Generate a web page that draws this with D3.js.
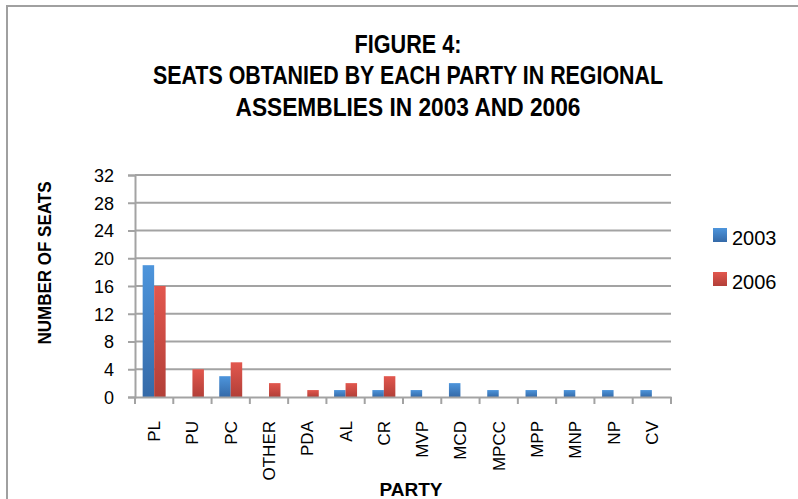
<!DOCTYPE html>
<html>
<head>
<meta charset="utf-8">
<script src="https://cdn.jsdelivr.net/npm/d3@7"></script>
<style>
  html, body { margin: 0; padding: 0; background: #fff; }
  svg { display: block; }
  text { font-family: "Liberation Sans", Arial, sans-serif; fill: #000; }
</style>
</head>
<body>
<svg id="chart" width="798" height="499"></svg>
<script>
// Seats per party in the regional assemblies
const parties = ["PL", "PU", "PC", "OTHER", "PDA", "AL", "CR", "MVP", "MCD", "MPCC", "MPP", "MNP", "NP", "CV"];
const seats2003 = [19, 0, 3, 0, 0, 1, 1, 1, 2, 1, 1, 1, 1, 1];
const seats2006 = [16, 4, 5, 2, 1, 2, 3, 0, 0, 0, 0, 0, 0, 0];
const seriesNames = ["2003", "2006"];
const yTicks = [0, 4, 8, 12, 16, 20, 24, 28, 32];
const titleLines = ["FIGURE 4:", "SEATS OBTANIED BY EACH PARTY IN REGIONAL", "ASSEMBLIES IN 2003 AND 2006"];

const svg = d3.select("#chart");
const W = 798, H = 499;
const plot = { left: 135, right: 671, top: 175, bottom: 397 };

// Outer chart frame
svg.append("rect")
  .attr("x", 7).attr("y", 6).attr("width", W + 20).attr("height", H + 20)
  .attr("fill", "#fff").attr("stroke", "#a0a0a0").attr("stroke-width", 2);

// Gradients for the bars
const defs = svg.append("defs");
const grads = [
  { id: "g2003", top: "#4d95dc", bottom: "#356aa8" },
  { id: "g2006", top: "#e2574e", bottom: "#b23f38" }
];
grads.forEach(g => {
  const lg = defs.append("linearGradient").attr("id", g.id)
    .attr("x1", 0).attr("y1", 0).attr("x2", 0).attr("y2", 1);
  lg.append("stop").attr("offset", "0%").attr("stop-color", g.top);
  lg.append("stop").attr("offset", "100%").attr("stop-color", g.bottom);
});

// Scales
const x = d3.scaleBand().domain(parties).range([plot.left, plot.right]).padding(0);
const xSub = d3.scaleBand().domain(seriesNames)
  .range([x.bandwidth() * 0.2, x.bandwidth() * 0.8]).padding(0);
const y = d3.scaleLinear().domain([0, 32]).range([plot.bottom, plot.top]);

// Horizontal gridlines
svg.append("g").selectAll("line").data(yTicks.filter(t => t > 0)).join("line")
  .attr("x1", plot.left).attr("x2", plot.right)
  .attr("y1", d => y(d)).attr("y2", d => y(d))
  .attr("stroke", "#a3a3a3").attr("stroke-width", 2);

// Y axis
const yAxis = svg.append("g").attr("transform", `translate(${plot.left},0)`)
  .call(d3.axisLeft(y).tickValues(yTicks).tickSize(7).tickPadding(14));
yAxis.select(".domain").attr("stroke", "#a3a3a3").attr("stroke-width", 2);
yAxis.selectAll(".tick line").attr("stroke", "#a3a3a3").attr("stroke-width", 2);
yAxis.selectAll(".tick text")
  .attr("font-family", "'Liberation Sans', Arial, sans-serif")
  .attr("font-size", 18).attr("fill", "#000").attr("dy", "0.36em");

// Bars
const data = parties.map((p, i) => ({ party: p, values: [seats2003[i], seats2006[i]] }));
const groups = svg.append("g").selectAll("g").data(data).join("g")
  .attr("transform", d => `translate(${x(d.party)},0)`);
groups.selectAll("rect")
  .data(d => d.values.map((v, k) => ({ key: seriesNames[k], value: v })).filter(e => e.value > 0))
  .join("rect")
  .attr("x", e => xSub(e.key))
  .attr("width", xSub.bandwidth())
  .attr("y", e => y(e.value))
  .attr("height", e => y(0) - y(e.value))
  .attr("fill", e => e.key === "2003" ? "url(#g2003)" : "url(#g2006)");

// X axis
const xAxis = svg.append("g").attr("transform", `translate(0,${plot.bottom})`)
  .call(d3.axisBottom(x).tickSize(0).tickPadding(0));
xAxis.select(".domain").attr("stroke", "#a3a3a3").attr("stroke-width", 2);
// tick marks on band boundaries
svg.append("g").selectAll("line").data(parties.concat(["_end"])).join("line")
  .attr("x1", (d, i) => plot.left + i * x.step()).attr("x2", (d, i) => plot.left + i * x.step())
  .attr("y1", plot.bottom).attr("y2", plot.bottom + 7)
  .attr("stroke", "#a3a3a3").attr("stroke-width", 2);
xAxis.selectAll(".tick text")
  .attr("font-family", "'Liberation Sans', Arial, sans-serif")
  .attr("font-size", 17).attr("fill", "#000")
  .attr("text-anchor", "end")
  .attr("transform", "translate(6,24) rotate(-90)")
  .attr("dy", "0");

// Title
const title = svg.append("g");
const titleBase = [53, 84, 116];
titleLines.forEach((t, i) => {
  const el = title.append("text")
    .attr("x", 408).attr("y", titleBase[i])
    .attr("text-anchor", "middle")
    .attr("font-weight", "bold").attr("font-size", 25)
    .text(t);
  const target = [107, 510, 345][i];
  if (el.node().getComputedTextLength() > target) {
    el.attr("textLength", target).attr("lengthAdjust", "spacingAndGlyphs");
  }
});

// Axis titles
const yTitle = svg.append("text")
  .attr("transform", `translate(51,${263}) rotate(-90)`)
  .attr("text-anchor", "middle")
  .attr("font-weight", "bold").attr("font-size", 19)
  .text("NUMBER OF SEATS");
if (yTitle.node().getComputedTextLength() > 163) {
  yTitle.attr("textLength", 163).attr("lengthAdjust", "spacingAndGlyphs");
}
const xTitle = svg.append("text")
  .attr("x", 411).attr("y", 496)
  .attr("text-anchor", "middle")
  .attr("font-weight", "bold").attr("font-size", 19)
  .text("PARTY");
if (xTitle.node().getComputedTextLength() > 66) {
  xTitle.attr("textLength", 66).attr("lengthAdjust", "spacingAndGlyphs");
}

// Legend
const legend = svg.append("g").attr("transform", "translate(713,228)");
seriesNames.forEach((s, i) => {
  const row = legend.append("g").attr("transform", `translate(0,${i * 44})`);
  row.append("rect").attr("width", 14).attr("height", 14)
    .attr("fill", i === 0 ? "url(#g2003)" : "url(#g2006)");
  row.append("text").attr("x", 19).attr("y", 17)
    .attr("font-size", 20).text(s);
});
</script>
</body>
</html>
